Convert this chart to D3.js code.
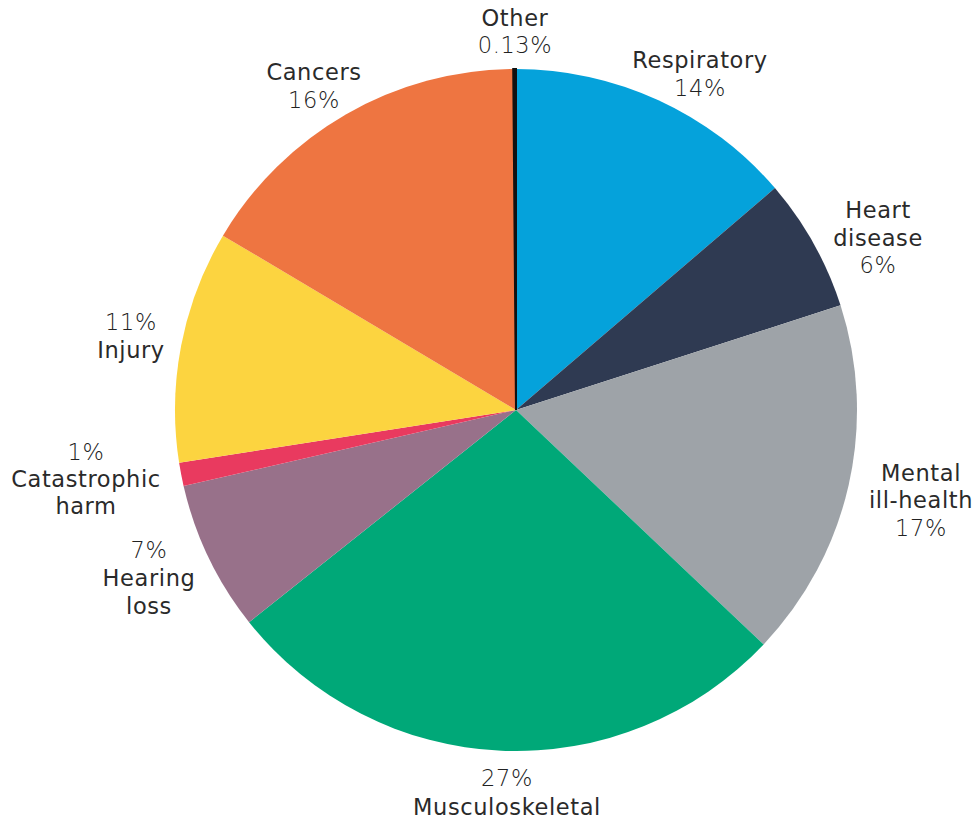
<!DOCTYPE html>
<html><head><meta charset="utf-8">
<script src="https://cdn.jsdelivr.net/npm/d3@7"></script>
<style>body{margin:0;background:#fff}</style>
</head><body>
<svg id="c" width="978" height="826"></svg>
<script>
const categories = ["Respiratory","Heart disease","Mental ill-health","Musculoskeletal","Hearing loss","Catastrophic harm","Injury","Cancers","Other"];
const values = [13.7, 6.3, 17.0, 27.2, 7.1, 1.1, 11.0, 16.3, 0.13];
const percentLabels = ["14%","6%","17%","27%","7%","1%","11%","16%","0.13%"];
const colors = ["#05a2db","#2f3a52","#9ea3a8","#00a878","#98718a","#e93a5f","#fcd440","#ee7541","#111111"];
const nameLines = [["Respiratory"],["Heart","disease"],["Mental","ill-health"],["Musculoskeletal"],["Hearing","loss"],["Catastrophic","harm"],["Injury"],["Cancers"],["Other"]];
const percentFirst = [false,false,false,true,true,true,true,false,false];
const labelX = [700, 878, 921, 507, 149, 86, 131, 314, 515];
const labelBaselines = [[68,96],[218,246,273],[481,508,536],[786,815],[558,586,614],[460,487,514],[330,358],[80,108],[26,53]];

const svg = d3.select("#c");
const cx = 516, cy = 410, r = 341;
const g = svg.append("g").attr("transform",`translate(${cx},${cy})`);
const pie = d3.pie().sort(null).value(d=>d);
const arc = d3.arc().innerRadius(0).outerRadius(r);
const arcs = pie(values);
g.selectAll("path").data(arcs).join("path")
  .attr("d",arc).attr("fill",(d,i)=>colors[i])
  .attr("stroke",(d,i)=>i===8?"#111":"none").attr("stroke-width",(d,i)=>i===8?2:0);

categories.forEach((c,i)=>{
  const lines = percentFirst[i] ? [{t:percentLabels[i],p:true}, ...nameLines[i].map(t=>({t,p:false}))]
                                : [...nameLines[i].map(t=>({t,p:false})), {t:percentLabels[i],p:true}];
  const t = svg.append("text").attr("text-anchor","middle")
    .attr("font-family","'DejaVu Sans', sans-serif").attr("font-size",22.5)
    .attr("letter-spacing",0.6).attr("fill","#2a2a2a");
  lines.forEach((l,k)=>{
    t.append("tspan").attr("x",labelX[i]).attr("y",labelBaselines[i][k])
     .attr("font-weight",l.p?200:400).attr("fill",l.p?"#222":"#2a2a2a").text(l.t);
  });
});
</script>
</body></html>
